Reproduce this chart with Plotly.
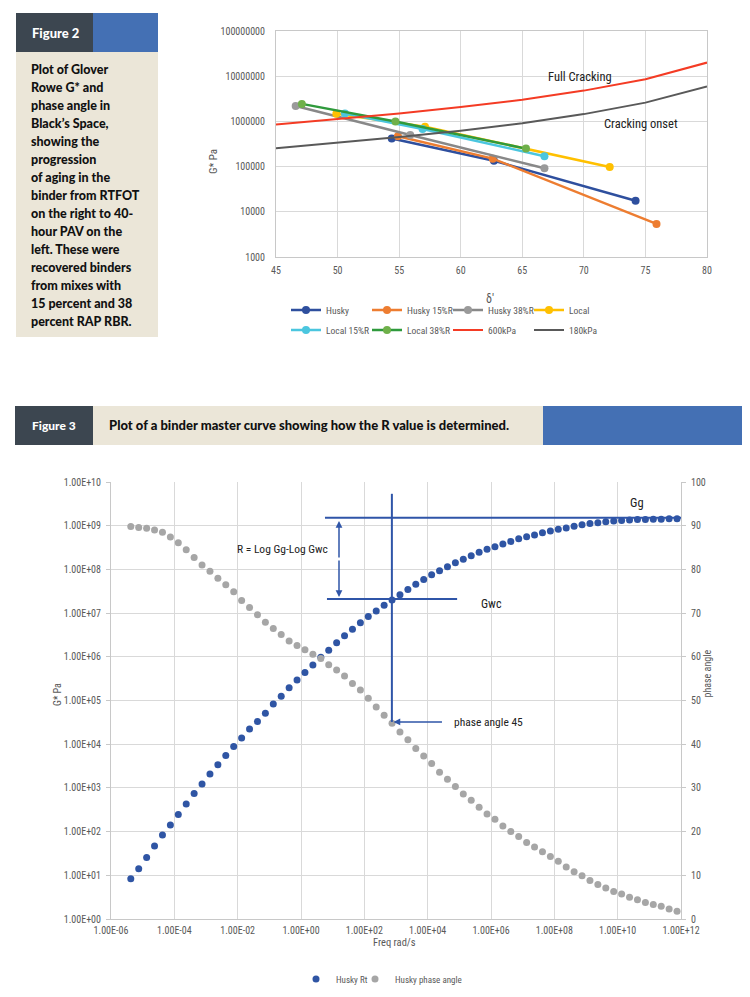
import plotly.graph_objects as go

W, H = 750, 997


def px(x):
    return x / W


def py(y):
    return 1 - y / H


# ---------------- Figure 2 data (Black space) ----------------
husky_delta = [54.4, 62.7, 74.2]
husky_g = [4.2e5, 1.35e5, 1.75e4]
husky15_delta = [54.9, 62.6, 75.9]
husky15_g = [4.7e5, 1.5e5, 5.4e3]
husky38_delta = [46.6, 55.9, 66.8]
husky38_g = [2.2e6, 5.0e5, 9.2e4]
local_delta = [49.9, 57.1, 72.1]
local_g = [1.47e6, 7.6e5, 9.8e4]
local15_delta = [50.6, 56.9, 66.8]
local15_g = [1.5e6, 6.8e5, 1.7e5]
local38_delta = [47.1, 54.7, 65.3]
local38_g = [2.44e6, 1.0e6, 2.5e5]

limit_delta = [45, 50, 55, 60, 65, 70, 75, 80]
gr600_g = [8.5e5, 1.12e6, 1.5e6, 2.08e6, 3.0e6, 4.8e6, 8.6e6, 2.0e7]
gr180_g = [2.55e5, 3.35e5, 4.5e5, 6.2e5, 9.1e5, 1.45e6, 2.6e6, 5.9e6]

fig2_xticks = [45, 50, 55, 60, 65, 70, 75, 80]
fig2_yticks = [1e3, 1e4, 1e5, 1e6, 1e7, 1e8]
fig2_ytext = ["1000", "10000", "100000", "1000000", "10000000", "100000000"]

# ---------------- Figure 3 data (master curve) ----------------
log_freq = [-5.375, -5.125, -4.875, -4.625, -4.375, -4.125, -3.875, -3.625, -3.375, -3.125,
            -2.875, -2.625, -2.375, -2.125, -1.875, -1.625, -1.375, -1.125, -0.875, -0.625,
            -0.375, -0.125, 0.125, 0.375, 0.625, 0.875, 1.125, 1.375, 1.625, 1.875,
            2.125, 2.375, 2.625, 2.875, 3.125, 3.375, 3.625, 3.875, 4.125, 4.375,
            4.625, 4.875, 5.125, 5.375, 5.625, 5.875, 6.125, 6.375, 6.625, 6.875,
            7.125, 7.375, 7.625, 7.875, 8.125, 8.375, 8.625, 8.875, 9.125, 9.375,
            9.625, 9.875, 10.125, 10.375, 10.625, 10.875, 11.125, 11.375, 11.625, 11.875]
rt_log_g = [0.92, 1.15, 1.41, 1.67, 1.92, 2.15, 2.39, 2.63, 2.87, 3.09,
            3.32, 3.53, 3.74, 3.95, 4.14, 4.35, 4.52, 4.71, 4.92, 5.10,
            5.29, 5.47, 5.64, 5.81, 5.99, 6.15, 6.32, 6.48, 6.63, 6.78,
            6.92, 7.05, 7.18, 7.30, 7.42, 7.54, 7.66, 7.77, 7.88, 7.97,
            8.06, 8.15, 8.23, 8.31, 8.39, 8.46, 8.52, 8.58, 8.64, 8.70,
            8.75, 8.79, 8.84, 8.88, 8.92, 8.95, 8.99, 9.02, 9.05, 9.07,
            9.09, 9.11, 9.12, 9.13, 9.14, 9.14, 9.15, 9.15, 9.16, 9.16]
phase_angle = [89.8, 89.6, 89.4, 89.0, 88.5, 87.4, 86.1, 84.5, 82.7, 81.0,
               79.6, 78.0, 76.5, 74.9, 72.9, 71.3, 69.6, 67.9, 66.5, 65.1,
               63.6, 62.6, 61.6, 60.6, 59.6, 58.2, 57.0, 55.6, 53.9, 52.4,
               50.5, 48.5, 46.6, 44.8, 42.8, 41.0, 39.0, 37.3, 35.6, 33.6,
               32.0, 30.3, 28.6, 27.2, 25.6, 24.0, 22.8, 21.3, 20.0, 18.9,
               17.5, 16.5, 15.4, 14.3, 13.2, 11.9, 10.8, 9.9, 8.8, 7.9,
               7.1, 6.3, 5.7, 5.0, 4.4, 3.8, 3.3, 2.9, 2.3, 1.8]

fig3_xticks = [1e-6, 1e-4, 1e-2, 1e0, 1e2, 1e4, 1e6, 1e8, 1e10, 1e12]
fig3_xtext = ["1.00E-06", "1.00E-04", "1.00E-02", "1.00E+00", "1.00E+02", "1.00E+04",
              "1.00E+06", "1.00E+08", "1.00E+10", "1.00E+12"]
fig3_yticks = [1e0, 1e1, 1e2, 1e3, 1e4, 1e5, 1e6, 1e7, 1e8, 1e9, 1e10]
fig3_ytext = ["1.00E+00", "1.00E+01", "1.00E+02", "1.00E+03", "1.00E+04", "1.00E+05",
              "1.00E+06", "1.00E+07", "1.00E+08", "1.00E+09", "1.00E+10"]
fig3_y2ticks = [0, 10, 20, 30, 40, 50, 60, 70, 80, 90, 100]

# annotation geometry (log10 units)
gg_level = 9.18
gwc_level = 7.32
gg_x_start = 0.757
gwc_x_range = [0.82, 4.93]
crossover_logf = 2.87
crossover_top = 9.73
phase45_level_logg = 4.51
arrow_logf = 1.2
arrow_ends = [9.11, 7.37]

fig2_text = ["Plot of Glover", "Rowe G* and", "phase angle in", "Black\u2019s Space,",
             "showing the", "progression", "of aging in the", "binder from RTFOT",
             "on the right to 40-", "hour PAV on the", "left. These were",
             "recovered binders", "from mixes with", "15 percent and 38",
             "percent RAP RBR."]

# ---------------- build ----------------
FAM = "Liberation Sans Narrow, Roboto Condensed, Roboto, sans-serif"
AX_FONT = dict(family=FAM, size=10, color="#595959")
LEG_FONT = dict(family=FAM, size=9.5, color="#595959")
HEAD_FONT = "Lato Black, Lato, Roboto, sans-serif"

fig = go.Figure()

series = [
    ("Husky", husky_delta, husky_g, "#2e4f9e", "#2e4f9e", "legend"),
    ("Husky 15%R", husky15_delta, husky15_g, "#ed7d31", "#ed7d31", "legend"),
    ("Husky 38%R", husky38_delta, husky38_g, "#888888", "#9a9a9a", "legend"),
    ("Local", local_delta, local_g, "#ffc000", "#ffc000", "legend"),
    ("Local 15%R", local15_delta, local15_g, "#4bc6df", "#4bc6df", "legend2"),
    ("Local 38%R", local38_delta, local38_g, "#2f9a3c", "#6fb04a", "legend2"),
]
for name, xs, ys, col, mcol, lg in series:
    fig.add_trace(go.Scatter(x=xs, y=ys, name=name, mode="lines+markers",
                             line=dict(color=col, width=2.5),
                             marker=dict(color=mcol, size=8),
                             xaxis="x", yaxis="y", legend=lg))
fig.add_trace(go.Scatter(x=limit_delta, y=gr600_g, name="600kPa", mode="lines",
                         line=dict(color="#f43b24", width=2), xaxis="x", yaxis="y", legend="legend2"))
fig.add_trace(go.Scatter(x=limit_delta, y=gr180_g, name="180kPa", mode="lines",
                         line=dict(color="#595959", width=2), xaxis="x", yaxis="y", legend="legend2"))

freq = [10 ** v for v in log_freq]
rt_g = [10 ** v for v in rt_log_g]
fig.add_trace(go.Scatter(x=freq, y=rt_g, name="Husky Rt", mode="markers",
                         marker=dict(color="#2f55a4", size=7),
                         xaxis="x2", yaxis="y2", legend="legend3"))
fig.add_trace(go.Scatter(x=freq, y=phase_angle, name="Husky phase angle", mode="markers",
                         marker=dict(color="#a6a6a6", size=7),
                         xaxis="x2", yaxis="y3", legend="legend4"))

grid = "#d9d9d9"
line = "#c8c8c8"
LEG3_FONT = dict(family=FAM, size=9, color="#595959")
fig.update_layout(
    width=W, height=H, autosize=False,
    margin=dict(l=0, r=0, t=0, b=0, pad=0),
    paper_bgcolor="white", plot_bgcolor="white",
    font=AX_FONT,
    xaxis=dict(domain=[px(276), px(707)], range=[45, 80], tickvals=fig2_xticks, automargin=False,
               showgrid=True, gridcolor=grid, showline=True, linecolor=line, mirror=True,
               zeroline=False, anchor="y", ticks="", ticklabelstandoff=4, tickfont=AX_FONT),
    yaxis=dict(domain=[py(257), py(31)], type="log", range=[3, 8], tickvals=fig2_yticks, automargin=False,
               ticktext=fig2_ytext, showgrid=True, gridcolor=grid, showline=True, linecolor=line,
               mirror=True, zeroline=False, anchor="x", ticks="", ticklabelstandoff=8, tickfont=AX_FONT),
    xaxis2=dict(domain=[px(111), px(681)], type="log", range=[-6, 12], tickvals=fig3_xticks, automargin=False,
                ticktext=fig3_xtext, showgrid=True, gridcolor=grid, showline=True, linecolor=line,
                zeroline=False, anchor="y2", ticks="", ticklabelstandoff=2, tickfont=AX_FONT),
    yaxis2=dict(domain=[py(919), py(482)], type="log", range=[0, 10], tickvals=fig3_yticks, automargin=False,
                ticktext=fig3_ytext, showgrid=True, gridcolor=grid, showline=True, linecolor=line,
                zeroline=False, anchor="x2", ticks="outside", ticklen=4, tickcolor=line,
                ticklabelstandoff=3, tickfont=AX_FONT),
    yaxis3=dict(overlaying="y2", side="right", anchor="x2", range=[0, 100], tickvals=fig3_y2ticks,
                automargin=False,
                showgrid=False, showline=True, linecolor=line, zeroline=False, ticks="outside",
                ticklen=4, tickcolor=line, ticklabelstandoff=3, tickfont=AX_FONT),
    legend=dict(orientation="h", x=px(286), xanchor="left", y=py(310), yanchor="middle",
                entrywidth=36, entrywidthmode="pixels", font=LEG_FONT, bgcolor="rgba(0,0,0,0)"),
    legend2=dict(orientation="h", x=px(286), xanchor="left", y=py(330), yanchor="middle",
                 entrywidth=36, entrywidthmode="pixels", font=LEG_FONT, bgcolor="rgba(0,0,0,0)"),
    legend3=dict(orientation="h", x=px(296), xanchor="left", y=py(979), yanchor="middle",
                 font=LEG3_FONT, bgcolor="rgba(0,0,0,0)"),
    legend4=dict(orientation="h", x=px(355), xanchor="left", y=py(979), yanchor="middle",
                 font=LEG3_FONT, bgcolor="rgba(0,0,0,0)"),
)

shapes = []
# Figure 2 side panel
shapes.append(dict(type="rect", xref="paper", yref="paper", x0=px(16), x1=px(158), y0=py(337), y1=py(52),
                   fillcolor="#ebe6d8", line=dict(width=0), layer="below"))
shapes.append(dict(type="rect", xref="paper", yref="paper", x0=px(16), x1=px(93), y0=py(52), y1=py(13),
                   fillcolor="#3c4650", line=dict(width=0), layer="below"))
shapes.append(dict(type="rect", xref="paper", yref="paper", x0=px(93), x1=px(158), y0=py(52), y1=py(13),
                   fillcolor="#4470b4", line=dict(width=0), layer="below"))
# Figure 3 header band
shapes.append(dict(type="rect", xref="paper", yref="paper", x0=px(15), x1=px(93), y0=py(445), y1=py(406),
                   fillcolor="#3c4650", line=dict(width=0), layer="below"))
shapes.append(dict(type="rect", xref="paper", yref="paper", x0=px(93), x1=px(543), y0=py(445), y1=py(406),
                   fillcolor="#ebe6d8", line=dict(width=0), layer="below"))
shapes.append(dict(type="rect", xref="paper", yref="paper", x0=px(543), x1=px(742), y0=py(445), y1=py(406),
                   fillcolor="#4470b4", line=dict(width=0), layer="below"))

blue = "#2f55a8"
# Gg line
shapes.append(dict(type="line", xref="x2", yref="y2", x0=10 ** gg_x_start, x1=1e12,
                   y0=10 ** gg_level, y1=10 ** gg_level, line=dict(color=blue, width=2)))
# Gwc line
shapes.append(dict(type="line", xref="x2", yref="y2", x0=10 ** gwc_x_range[0], x1=10 ** gwc_x_range[1],
                   y0=10 ** gwc_level, y1=10 ** gwc_level, line=dict(color=blue, width=2)))
# vertical line at phase angle 45 frequency
shapes.append(dict(type="line", xref="x2", yref="y2", x0=10 ** crossover_logf, x1=10 ** crossover_logf,
                   y0=10 ** phase45_level_logg, y1=10 ** crossover_top, line=dict(color=blue, width=2)))
fig.update_layout(shapes=shapes)

ann = []
ann.append(dict(xref="paper", yref="paper", x=px(30), y=py(33), text="Figure 2", showarrow=False,
                xanchor="left", yanchor="middle", font=dict(family=HEAD_FONT, size=13, color="white", weight=900)))
for i, t in enumerate(fig2_text):
    ann.append(dict(xref="paper", yref="paper", x=px(29), y=py(69 + i * 18), text=t, showarrow=False,
                    xanchor="left", yanchor="middle",
                    font=dict(family=HEAD_FONT, size=12.5, color="#111111", weight=900)))
ann.append(dict(xref="paper", yref="paper", x=px(54), y=py(425), text="Figure 3", showarrow=False,
                xanchor="center", yanchor="middle", font=dict(family=HEAD_FONT, size=12, color="white", weight=900)))
ann.append(dict(xref="paper", yref="paper", x=px(107), y=py(425),
                text="Plot of a binder master curve showing how the R value is determined.", showarrow=False,
                xanchor="left", yanchor="middle", font=dict(family=HEAD_FONT, size=13, color="#111111", weight=900)))

# chart 2 titles & labels
ann.append(dict(xref="paper", yref="paper", x=px(205), y=py(147), text="G* Pa", textangle=-90, showarrow=False,
                font=dict(family=FAM, size=11, color="#595959")))
ann.append(dict(xref="paper", yref="paper", x=px(490), y=py(290), text="\u03b4'", showarrow=False,
                font=dict(family=FAM, size=12, color="#595959")))
ann.append(dict(xref="x", yref="y", x=69.65, y=7.0, text="Full Cracking", showarrow=False,
                font=dict(family=FAM, size=12.5, color="#222222")))
ann.append(dict(xref="x", yref="y", x=74.6, y=5.96, text="Cracking onset", showarrow=False,
                font=dict(family=FAM, size=12.5, color="#222222")))

# chart 3 titles & labels
ann.append(dict(xref="paper", yref="paper", x=px(50), y=py(708), text="G* Pa", textangle=-90, showarrow=False,
                font=dict(family=FAM, size=10, color="#595959")))
ann.append(dict(xref="paper", yref="paper", x=px(714), y=py(700), text="phase angle", textangle=-90,
                showarrow=False, font=dict(family=FAM, size=10, color="#595959")))
ann.append(dict(xref="paper", yref="paper", x=px(395), y=py(951), text="Freq rad/s", showarrow=False,
                font=dict(family=FAM, size=10.5, color="#595959")))
ann.append(dict(xref="x2", yref="y2", x=-0.57, y=8.47, text="R = Log Gg-Log Gwc", showarrow=False,
                font=dict(family=FAM, size=11.5, color="#222222")))
ann.append(dict(xref="x2", yref="y2", x=10.61, y=9.52, text="Gg", showarrow=False,
                font=dict(family=FAM, size=12.5, color="#222222")))
ann.append(dict(xref="x2", yref="y2", x=6.03, y=7.21, text="Gwc", showarrow=False,
                font=dict(family=FAM, size=12, color="#222222")))
ann.append(dict(xref="x2", yref="y2", x=4.77, y=phase45_level_logg, text="phase angle 45", showarrow=False,
                xanchor="left", font=dict(family=FAM, size=11.5, color="#222222")))
# arrows
ann.append(dict(xref="x2", yref="y2", x=arrow_logf, y=arrow_ends[0], ax=0, ay=38, text="", showarrow=True,
                arrowhead=2, arrowsize=0.9, arrowwidth=1.5, arrowcolor=blue, standoff=0))
ann.append(dict(xref="x2", yref="y2", x=arrow_logf, y=arrow_ends[1], ax=0, ay=-38, text="", showarrow=True,
                arrowhead=2, arrowsize=0.9, arrowwidth=1.5, arrowcolor=blue, standoff=0))
ann.append(dict(xref="x2", yref="y2", x=crossover_logf + 0.05, y=phase45_level_logg, ax=50, ay=0, text="",
                showarrow=True, arrowhead=2, arrowsize=0.9, arrowwidth=1.5, arrowcolor=blue, standoff=0))
fig.update_layout(annotations=ann)

fig.write_html(
    "out.html",
    config={"displayModeBar": False},
    post_script="document.body.style.margin='0';document.body.style.padding='0';"
                "document.documentElement.style.overflow='hidden';",
)
